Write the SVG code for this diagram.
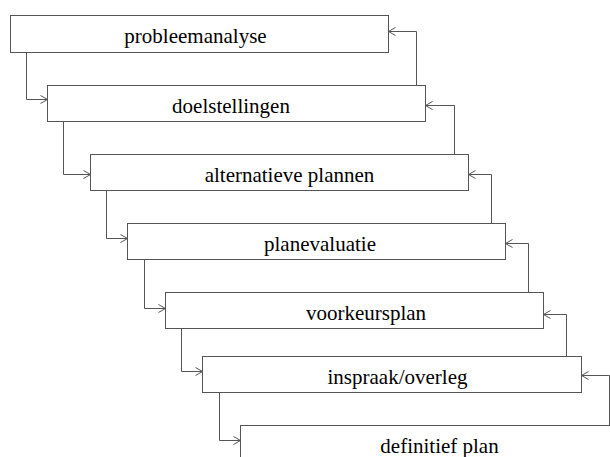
<svg xmlns="http://www.w3.org/2000/svg" width="610" height="457" viewBox="0 0 610 457">
<style>
.box{fill:#fff;stroke:#555;stroke-width:1}
.con{fill:none;stroke:#555;stroke-width:1}
</style>
<rect width="610" height="457" fill="#fff"/>
<g id="n1"><rect class="box" x="10.5" y="15.5" width="378" height="37"/><text x="195.5" y="43" font-family="Liberation Serif, Times New Roman, serif" font-size="21" text-anchor="middle">probleemanalyse</text></g>
<g id="n2"><rect class="box" x="47.5" y="85.5" width="378" height="36"/><text x="231" y="113" font-family="Liberation Serif, Times New Roman, serif" font-size="21" text-anchor="middle">doelstellingen</text></g>
<g id="n3"><rect class="box" x="90.5" y="154.5" width="378" height="36"/><text x="289.5" y="182" font-family="Liberation Serif, Times New Roman, serif" font-size="21" text-anchor="middle">alternatieve plannen</text></g>
<g id="n4"><rect class="box" x="127.5" y="223.5" width="378" height="36"/><text x="320" y="251" font-family="Liberation Serif, Times New Roman, serif" font-size="21" text-anchor="middle">planevaluatie</text></g>
<g id="n5"><rect class="box" x="165.5" y="292.5" width="378" height="36"/><text x="366" y="320" font-family="Liberation Serif, Times New Roman, serif" font-size="21" text-anchor="middle">voorkeursplan</text></g>
<g id="n6"><rect class="box" x="202.5" y="356.5" width="379" height="36"/><text x="397.5" y="384" font-family="Liberation Serif, Times New Roman, serif" font-size="21" text-anchor="middle">inspraak/overleg</text></g>
<g id="n7"><rect class="box" x="240.5" y="425.5" width="378" height="36"/><text x="439.5" y="453" font-family="Liberation Serif, Times New Roman, serif" font-size="21" text-anchor="middle">definitief plan</text></g>
<g id="connectors">
<path class="con" d="M26.5,52.5 V99.5 H47.5 M40.5,95.5 L47.5,99.5 L40.5,103.5"/>
<path class="con" d="M63.5,121.5 V174.5 H90.5 M83.5,170.5 L90.5,174.5 L83.5,178.5"/>
<path class="con" d="M106.5,190.5 V238.5 H127.5 M120.5,234.5 L127.5,238.5 L120.5,242.5"/>
<path class="con" d="M144.5,259.5 V308.5 H165.5 M158.5,304.5 L165.5,308.5 L158.5,312.5"/>
<path class="con" d="M181.5,328.5 V371.5 H202.5 M195.5,367.5 L202.5,371.5 L195.5,375.5"/>
<path class="con" d="M219.5,392.5 V440.5 H240.5 M233.5,436.5 L240.5,440.5 L233.5,444.5"/>
<path class="con" d="M416.5,85.5 V31.5 H388.5 M395.5,27.5 L388.5,31.5 L395.5,35.5"/>
<path class="con" d="M454.5,154.5 V105.5 H425.5 M432.5,101.5 L425.5,105.5 L432.5,109.5"/>
<path class="con" d="M491.5,223.5 V174.5 H468.5 M475.5,170.5 L468.5,174.5 L475.5,178.5"/>
<path class="con" d="M528.5,292.5 V243.5 H505.5 M512.5,239.5 L505.5,243.5 L512.5,247.5"/>
<path class="con" d="M566.5,356.5 V314.5 H543.5 M550.5,310.5 L543.5,314.5 L550.5,318.5"/>
<path class="con" d="M609.5,425.5 V375.5 H581.5 M588.5,371.5 L581.5,375.5 L588.5,379.5"/>
</g>
</svg>
